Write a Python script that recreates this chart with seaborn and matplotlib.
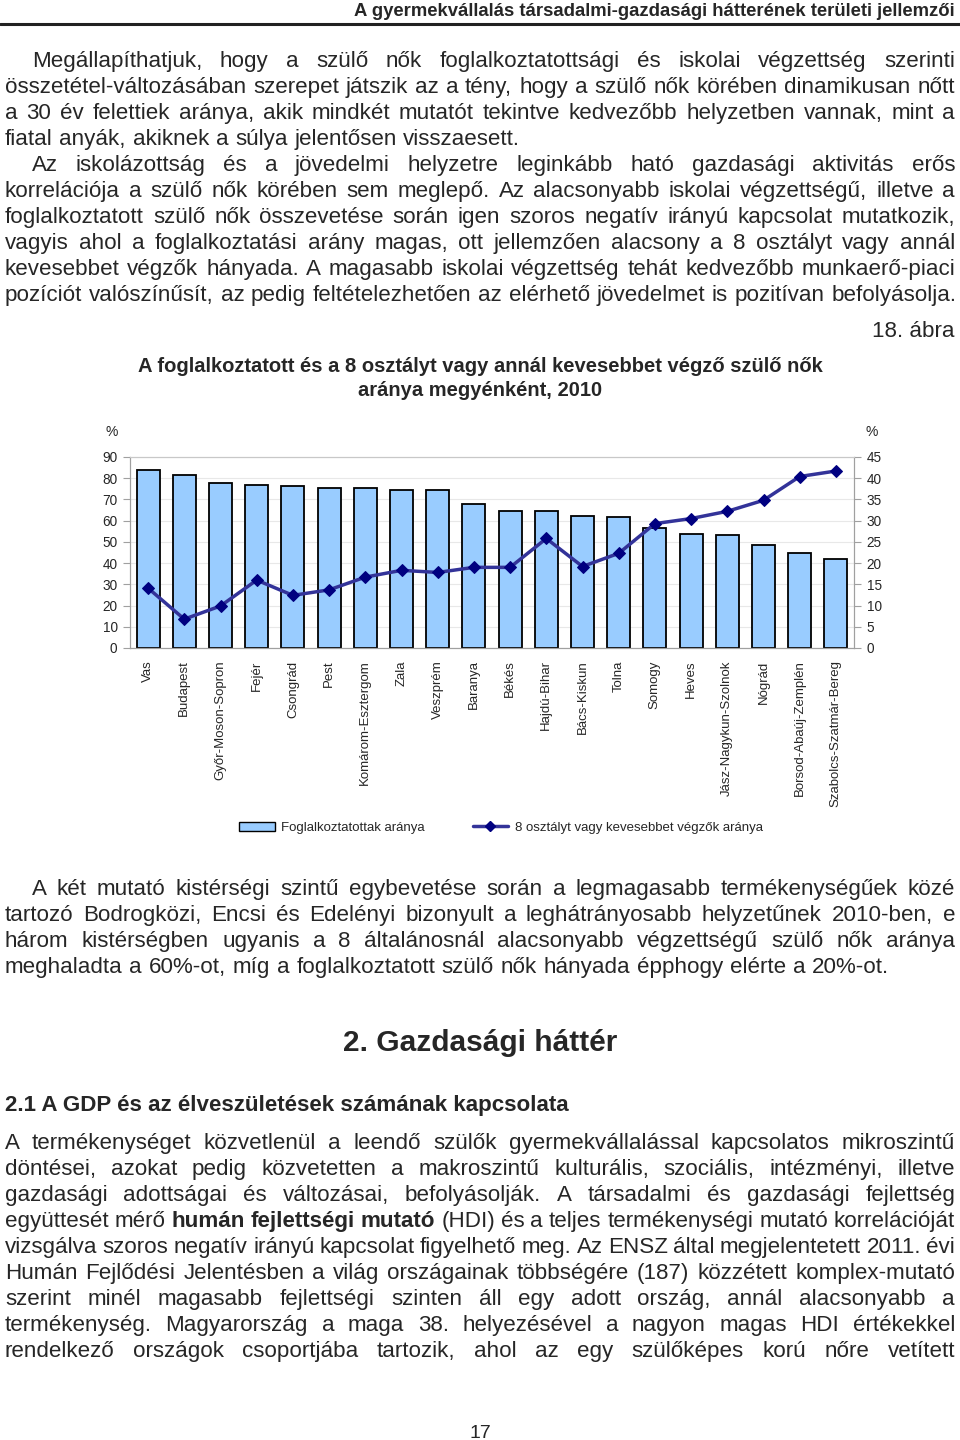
import numpy as np
import pandas as pd
import matplotlib
matplotlib.use('Agg')
import matplotlib.pyplot as plt
import seaborn as sns
from matplotlib.patches import Patch
from matplotlib.lines import Line2D

# megyék és a két mutató (%), leolvasva az ábráról
counties = ['Vas', 'Budapest', 'Győr-Moson-Sopron', 'Fejér', 'Csongrád', 'Pest',
            'Komárom-Esztergom', 'Zala', 'Veszprém', 'Baranya', 'Békés', 'Hajdú-Bihar',
            'Bács-Kiskun', 'Tolna', 'Somogy', 'Heves', 'Jász-Nagykun-Szolnok', 'Nógrád',
            'Borsod-Abaúj-Zemplén', 'Szabolcs-Szatmár-Bereg']
employed = [84.0, 81.5, 77.6, 77.0, 76.2, 75.6, 75.6, 74.3, 74.3, 67.8,
            64.5, 64.5, 62.3, 61.7, 56.5, 53.8, 53.2, 48.5, 44.8, 42.1]
low_edu = [14.1, 6.8, 9.9, 16.0, 12.4, 13.7, 16.7, 18.3, 17.8, 19.0,
           19.0, 25.8, 19.2, 22.3, 29.3, 30.5, 32.2, 34.8, 40.4, 41.7]
left_ticks = list(range(0, 91, 10))
right_ticks = list(range(0, 46, 5))

header = 'A gyermekvállalás társadalmi-gazdasági hátterének területi jellemzői'
para1 = [
    'Megállapíthatjuk, hogy a szülő nők foglalkoztatottsági és iskolai végzettség szerinti',
    'összetétel-változásában szerepet játszik az a tény, hogy a szülő nők körében dinamikusan nőtt',
    'a 30 év felettiek aránya, akik mindkét mutatót tekintve kedvezőbb helyzetben vannak, mint a',
    'fiatal anyák, akiknek a súlya jelentősen visszaesett.',
]
para2 = [
    'Az iskolázottság és a jövedelmi helyzetre leginkább ható gazdasági aktivitás erős',
    'korrelációja a szülő nők körében sem meglepő. Az alacsonyabb iskolai végzettségű, illetve a',
    'foglalkoztatott szülő nők összevetése során igen szoros negatív irányú kapcsolat mutatkozik,',
    'vagyis ahol a foglalkoztatási arány magas, ott jellemzően alacsony a 8 osztályt vagy annál',
    'kevesebbet végzők hányada. A magasabb iskolai végzettség tehát kedvezőbb munkaerő-piaci',
    'pozíciót valószínűsít, az pedig feltételezhetően az elérhető jövedelmet is pozitívan befolyásolja.',
]
chart_title = ['A foglalkoztatott és a 8 osztályt vagy annál kevesebbet végző szülő nők',
               'aránya megyénként, 2010']
para3 = [
    'A két mutató kistérségi szintű egybevetése során a legmagasabb termékenységűek közé',
    'tartozó Bodrogközi, Encsi és Edelényi bizonyult a leghátrányosabb helyzetűnek 2010-ben, e',
    'három kistérségben ugyanis a 8 általánosnál alacsonyabb végzettségű szülő nők aránya',
    'meghaladta a 60%-ot, míg a foglalkoztatott szülő nők hányada épphogy elérte a 20%-ot.',
]
para4 = [
    'A termékenységet közvetlenül a leendő szülők gyermekvállalással kapcsolatos mikroszintű',
    'döntései, azokat pedig közvetetten a makroszintű kulturális, szociális, intézményi, illetve',
    'gazdasági adottságai és változásai, befolyásolják. A társadalmi és gazdasági fejlettség',
    'együttesét mérő *humán *fejlettségi *mutató (HDI) és a teljes termékenységi mutató korrelációját',
    'vizsgálva szoros negatív irányú kapcsolat figyelhető meg. Az ENSZ által megjelentetett 2011. évi',
    'Humán Fejlődési Jelentésben a világ országainak többségére (187) közzétett komplex-mutató',
    'szerint minél magasabb fejlettségi szinten áll egy adott ország, annál alacsonyabb a',
    'termékenység. Magyarország a maga 38. helyezésével a nagyon magas HDI értékekkel',
    'rendelkező országok csoportjába tartozik, ahol az egy szülőképes korú nőre vetített',
]

df = pd.DataFrame({'megye': counties, 'fogl': employed, 'alacsony': low_edu})

sns.set_style('white')
plt.rcParams['font.family'] = ['Liberation Sans', 'DejaVu Sans']

W, H = 960, 1440
fig = plt.figure(figsize=(9.6, 14.4), dpi=100)
renderer = fig.canvas.get_renderer()
BODY = 16.1


def put(x, y, s, size, **kw):
    return fig.text(x / W, 1 - y / H, s, fontsize=size, va='baseline', **kw)


def justify(y, line, size=BODY, x0=5, x1=955, full=True):
    items = []
    for w in line.split(' '):
        bold = w.startswith('*')
        items.append(put(x0, y, w.lstrip('*'), size, fontweight='bold' if bold else 'normal'))
    widths = [t.get_window_extent(renderer).width for t in items]
    if full and len(items) > 1:
        gap = (x1 - x0 - sum(widths)) / (len(items) - 1)
    else:
        gap = 0.30 * size * 100 / 72
    x = x0
    for t, wd in zip(items, widths):
        t.set_x(x / W)
        x += wd + gap


def paragraph(lines, y0, indent=True, last_full=False):
    for i, line in enumerate(lines):
        x0 = 32 if (indent and i == 0) else 5
        full = last_full or i < len(lines) - 1
        justify(y0 + 26 * i, line, x0=x0, full=full)


# fejléc
put(955, 16, header, 13.3, ha='right', fontweight='bold')
fig.add_artist(Line2D([0, 1], [1 - 23.5 / H] * 2, color='#222222', lw=2.2, transform=fig.transFigure))

paragraph(para1, 67)
paragraph(para2, 171)
put(955, 337, '18. ábra', BODY, ha='right')
put(480, 372, chart_title[0], 14.5, ha='center', fontweight='bold')
put(480, 396, chart_title[1], 14.5, ha='center', fontweight='bold')

# diagram
ax = fig.add_axes([130 / W, 1 - 648 / H, (854 - 130) / W, (648 - 457) / H])
sns.barplot(data=df, x='megye', y='fogl', color='#99CCFF', saturation=1,
            edgecolor='black', linewidth=1.3, width=0.63, ax=ax)
ax.set_ylim(0, 90)
ax.set_yticks(left_ticks)
ax.set_xlim(-0.5, len(counties) - 0.5)
ax.set_xlabel('')
ax.set_ylabel('')
ax.yaxis.grid(True, color='#E8E8E8', lw=0.8)
ax.set_axisbelow(True)
ax.set_xticks(range(len(counties)))
ax.set_xticklabels(counties, rotation=90)
ax.set_xticks(np.arange(-0.5, len(counties), 1), minor=True)
ax.tick_params(axis='x', which='major', length=0, pad=9, labelsize=9.5)
ax.tick_params(axis='x', which='minor', length=5, color='#A0A0A0', direction='out')
ax.tick_params(axis='y', length=5, color='#A0A0A0', direction='out', labelsize=9.8, pad=4, left=True)

ax2 = ax.twinx()
sns.lineplot(x=np.arange(len(counties)), y=low_edu, ax=ax2, color='#333399', lw=2.5,
             marker='D', markersize=6, markerfacecolor='#000080', markeredgecolor='#000080')
ax2.set_ylim(0, 45)
ax2.set_yticks(right_ticks)
ax2.set_xlim(-0.5, len(counties) - 0.5)
ax2.set_ylabel('')
ax2.grid(False)
ax2.tick_params(axis='y', length=5, color='#A0A0A0', direction='out', labelsize=9.8, pad=4, right=True)

for a in (ax, ax2):
    for side in ('left', 'bottom', 'right'):
        a.spines[side].set_color('#A0A0A0')
    a.spines['top'].set_color('#C8C8C8')

put(105, 436, '%', 10)
put(866, 436, '%', 10)

handles = [Patch(facecolor='#99CCFF', edgecolor='black', label='Foglalkoztatottak aránya'),
           Line2D([0], [0], color='#333399', lw=2.5, marker='D', markersize=5,
                  markerfacecolor='#000080', markeredgecolor='#000080',
                  label='8 osztályt vagy kevesebbet végzők aránya')]
fig.legend(handles=handles, loc='center', bbox_to_anchor=(501 / W, 1 - 828 / H), ncol=2,
           frameon=False, fontsize=9.5, handlelength=2.7, handleheight=0.75,
           handletextpad=0.5, columnspacing=3.6)

paragraph(para3, 895)
put(480, 1051, '2. Gazdasági háttér', 21.5, ha='center', fontweight='bold')
put(5, 1111, '2.1 A GDP és az élveszületések számának kapcsolata', 16.1, fontweight='bold')
paragraph(para4, 1149, indent=False, last_full=True)
put(480, 1438, '17', 14, ha='center')

fig.savefig('out.png', dpi=100)
